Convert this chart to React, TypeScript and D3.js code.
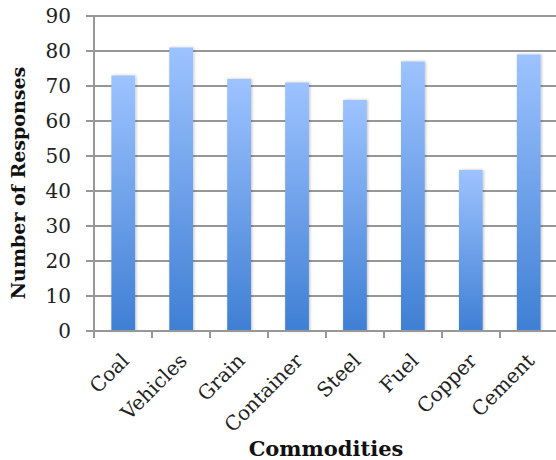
import React from "react";
import * as d3 from "d3";

const categories = ["Coal", "Vehicles", "Grain", "Container", "Steel", "Fuel", "Copper", "Cement"];
const responses = [73, 81, 72, 71, 66, 77, 46, 79];
const yTicks = [0, 10, 20, 30, 40, 50, 60, 70, 80, 90];

const W = 556;
const H = 460;
const left = 94;
const right = 558;
const top = 16;
const bottom = 331;

export default function App() {
  const x = d3.scaleBand<string>().domain(categories).range([left, right]).paddingInner(0.59).paddingOuter(0.3);
  const xb = d3.scaleBand<string>().domain(categories).range([left, right]);
  const y = d3.scaleLinear().domain([0, 90]).range([bottom, top]);
  const font = "'DejaVu Serif', serif";

  return (
    <svg width={W} height={H} style={{ position: "absolute", left: 0, top: 0, background: "#fff" }}>
      <defs>
        <linearGradient id="barFill" x1="0" y1="0" x2="0" y2="1">
          <stop offset="0" stopColor="#9dc3ff" />
          <stop offset="1" stopColor="#3f7fd4" />
        </linearGradient>
        <filter id="barShadow" x="-30%" y="-5%" width="160%" height="110%">
          <feGaussianBlur in="SourceAlpha" stdDeviation="1.5" />
          <feOffset dx="1" dy="0" result="b" />
          <feComponentTransfer>
            <feFuncA type="linear" slope="0.25" />
          </feComponentTransfer>
          <feMerge>
            <feMergeNode />
            <feMergeNode in="SourceGraphic" />
          </feMerge>
        </filter>
      </defs>

      {/* horizontal gridlines */}
      {yTicks.map((t) => (
        <g key={t}>
          {t > 0 && <line x1={left} x2={W} y1={y(t)} y2={y(t)} stroke="#979797" strokeWidth={2} />}
          <line x1={left - 8} x2={left} y1={y(t)} y2={y(t)} stroke="#979797" strokeWidth={2} />
          <text x={71} y={y(t)} dy="0.36em" textAnchor="end" fontFamily={font} fontSize={20} fill="#222">
            {t}
          </text>
        </g>
      ))}

      {/* bars */}
      {categories.map((c, i) => (
        <rect
          key={c}
          x={x(c)}
          y={y(responses[i])}
          width={x.bandwidth()}
          height={bottom - y(responses[i])}
          fill="url(#barFill)"
          filter="url(#barShadow)"
        />
      ))}

      {/* axes */}
      <line x1={left} x2={left} y1={top} y2={bottom} stroke="#979797" strokeWidth={2} />
      <line x1={left - 8} x2={W} y1={bottom} y2={bottom} stroke="#979797" strokeWidth={2} />
      {categories.map((c) => (
        <line key={c} x1={xb(c)} x2={xb(c)} y1={bottom} y2={bottom + 7} stroke="#979797" strokeWidth={2} />
      ))}

      {/* category labels */}
      {categories.map((c) => {
        const cx = (x(c) as number) + x.bandwidth() / 2 + 7;
        const cy = bottom + 31;
        return (
          <text
            key={c}
            transform={`translate(${cx},${cy}) rotate(-45)`}
            textAnchor="end"
            fontFamily={font}
            fontSize={20}
            fill="#222"
          >
            {c}
          </text>
        );
      })}

      {/* axis titles */}
      <text
        transform={`translate(25,183) rotate(-90)`}
        textAnchor="middle"
        fontFamily={font}
        fontWeight="bold"
        fontSize={19}
        fill="#111"
      >
        Number of Responses
      </text>
      <text x={326} y={456} textAnchor="middle" fontFamily={font} fontWeight="bold" fontSize={21} fill="#111">
        Commodities
      </text>
    </svg>
  );
}
